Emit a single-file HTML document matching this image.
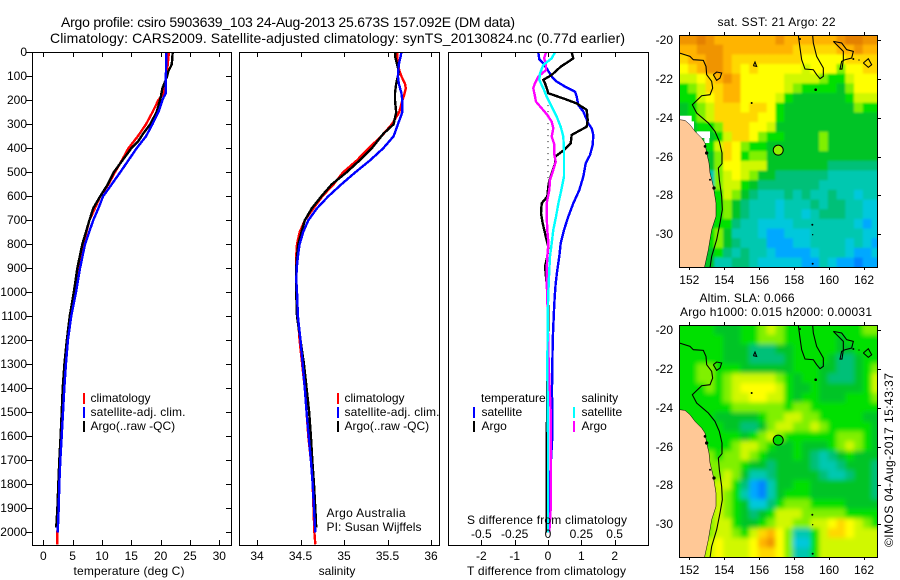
<!DOCTYPE html>
<html><head><meta charset="utf-8"><title>Argo profile</title>
<style>
html,body{margin:0;padding:0;background:#fff;width:900px;height:580px;overflow:hidden}
svg{display:block}
text{font-family:"Liberation Sans",sans-serif;font-size:12px;fill:#000}
.t14{font-size:14px}
.fr{fill:none;stroke:#000;stroke-width:1;shape-rendering:crispEdges}
.sw{shape-rendering:crispEdges}
</style></head><body>
<svg id="chart" xmlns="http://www.w3.org/2000/svg" width="900" height="580" viewBox="0 0 900 580">
<defs>
<clipPath id="clipA"><rect x="679" y="35" width="198" height="232"/></clipPath>
<clipPath id="clipB"><rect x="679" y="325" width="198" height="232"/></clipPath>
<filter id="blurA" x="-5%" y="-5%" width="110%" height="110%"><feGaussianBlur stdDeviation="1.1"/></filter>
<filter id="blurB" x="-5%" y="-5%" width="110%" height="110%"><feGaussianBlur stdDeviation="2.4"/></filter>
</defs>
<text class="t14" x="61" y="27" textLength="454">Argo profile: csiro 5903639_103 24-Aug-2013 25.673S 157.092E (DM data)</text>
<text class="t14" x="50" y="43" textLength="575">Climatology: CARS2009. Satellite-adjusted climatology: synTS_20130824.nc (0.77d earlier)</text>

<g id="tempPanel"></g>
<g id="salPanel"></g>
<g id="diffPanel"></g>
<g id="mapA"></g>
<g id="mapB"></g>

<rect class="fr" x="32.5" y="52.5" width="199" height="493"/>
<rect class="fr" x="239.5" y="52.5" width="200" height="493"/>
<rect class="fr" x="448.5" y="52.5" width="200" height="493"/>

<g>
<rect class="sw" x="83" y="393" width="2" height="11" fill="#f00"/>
<rect class="sw" x="83" y="407" width="2" height="11" fill="#00f"/>
<rect class="sw" x="83" y="421" width="2" height="11" fill="#000"/>
<text x="90.5" y="402">climatology</text>
<text x="90.5" y="416" textLength="95">satellite-adj. clim.</text>
<text x="90.5" y="430">Argo(..raw -QC)</text>
</g>
<g>
<rect class="sw" x="337" y="393" width="2" height="11" fill="#f00"/>
<rect class="sw" x="337" y="407" width="2" height="11" fill="#00f"/>
<rect class="sw" x="337" y="421" width="2" height="11" fill="#000"/>
<text x="344.5" y="402">climatology</text>
<text x="344.5" y="416" textLength="95">satellite-adj. clim.</text>
<text x="344.5" y="430">Argo(..raw -QC)</text>
</g>
<text x="326.5" y="517" textLength="79">Argo Australia</text>
<text x="326.5" y="531" textLength="95">PI: Susan Wijffels</text>
<g>
<text x="481" y="402">temperature</text>
<text x="581.5" y="402">salinity</text>
<rect class="sw" x="473" y="407" width="2" height="11" fill="#00f"/>
<rect class="sw" x="473" y="421" width="2" height="11" fill="#000"/>
<rect class="sw" x="573" y="407" width="2" height="11" fill="#0ff"/>
<rect class="sw" x="573" y="421" width="2" height="11" fill="#f0f"/>
<text x="481.5" y="416">satellite</text>
<text x="481.5" y="430">Argo</text>
<text x="581.5" y="416">satellite</text>
<text x="581.5" y="430">Argo</text>
</g>
<text x="129" y="575" text-anchor="middle" textLength="111">temperature (deg C)</text>
<text x="337" y="575" text-anchor="middle">salinity</text>
<text x="467" y="524" textLength="160">S difference from climatology</text>
<text x="467" y="575" textLength="159">T difference from climatology</text>
<text x="717.5" y="26" textLength="118">sat. SST: 21 Argo: 22</text>
<text x="699.5" y="302" textLength="95">Altim. SLA: 0.066</text>
<text x="680" y="316" textLength="192">Argo h1000: 0.015 h2000: 0.00031</text>
<text transform="translate(893,547) rotate(-90)" x="0" y="0" textLength="174">©IMOS 04-Aug-2017 15:43:37</text>
</svg>
<script>
// ---- profile data (depth in m, value in deg C / PSU) ----
const depthTicks = [0,100,200,300,400,500,600,700,800,900,1000,1100,1200,1300,1400,1500,1600,1700,1800,1900,2000];
const tempTicks = [0,5,10,15,20,25,30];
const salTicks = [34,34.5,35,35.5,36];
const salTickLabels = ['34','34.5','35','35.5','36'];
const diffTTicks = [-2,-1,0,1,2];
const diffSTicks = [-0.5,-0.25,0,0.25,0.5];
const diffSTickLabels = ['-0.5','-0.25','0','0.25','0.5'];

const climTempDepth = [0,100,170,200,250,300,350,400,450,500,550,600,650,700,800,900,1000,1100,1200,1300,1400,1500,1600,1700,1800,1900,2000,2050];
const climTemp = [21.4,21.0,20.5,19.6,18.6,17.5,16.1,14.5,13.4,12.2,11.1,9.7,8.8,7.85,6.8,6.0,5.35,4.6,4.1,3.75,3.5,3.3,3.05,2.85,2.7,2.55,2.4,2.4];
const argoTempDepth = [0,50,80,100,150,190,250,300,340,370,400,450,500,550,600,650,700,800,900,1000,1100,1200,1300,1400,1500,1600,1700,1800,1900,1980];
const argoTemp = [22.05,21.9,21.3,21.1,20.3,20.0,19.3,18.2,17.0,16.2,15.0,13.5,12.0,11.0,9.7,8.5,7.85,6.65,5.8,5.2,4.5,4.0,3.6,3.3,3.14,2.95,2.73,2.55,2.4,2.2];
const satTempDepth = [0,100,170,190,250,300,350,400,450,500,550,600,650,700,800,900,1000,1100,1200,1300,1400,1500,1600,1700,1800,1900,2000];
const satTemp = [20.97,20.9,20.9,20.46,19.6,18.6,17.5,15.9,14.5,13.1,11.66,10.2,9.4,8.5,7.1,6.25,5.57,4.75,4.2,3.85,3.58,3.36,3.13,2.9,2.73,2.62,2.45];

const climSalDepth = [0,50,80,100,130,150,180,200,250,300,350,400,450,500,550,600,650,700,750,800,850,900,1000,1100,1200,1300,1400,1500,1600,1700,1800,1900,2000,2050];
const climSal = [35.61,35.62,35.64,35.66,35.7,35.71,35.69,35.67,35.635,35.55,35.43,35.28,35.15,34.99,34.88,34.75,34.65,34.55,34.49,34.46,34.45,34.45,34.45,34.47,34.49,34.52,34.55,34.57,34.59,34.62,34.64,34.65,34.66,34.67];
const argoSalDepth = [0,20,50,80,100,130,170,200,250,300,340,400,450,500,550,600,650,700,750,800,850,900,1000,1100,1200,1300,1400,1500,1600,1700,1800,1900,1980];
const argoSal = [35.586,35.59,35.61,35.63,35.62,35.6,35.586,35.586,35.6,35.57,35.45,35.32,35.18,35.03,34.86,34.74,34.63,34.55,34.51,34.475,34.46,34.45,34.45,34.46,34.5,34.54,34.57,34.6,34.62,34.636,34.655,34.67,34.68];
const satSalDepth = [0,20,50,100,130,170,200,250,300,350,400,450,500,550,600,650,700,750,800,850,900,950,1000,1100,1200,1300,1400,1500,1600,1700,1800,1900,2000];
const satSal = [35.66,35.65,35.63,35.62,35.63,35.66,35.67,35.67,35.62,35.57,35.45,35.3,35.13,34.97,34.82,34.69,34.59,34.53,34.49,34.47,34.456,34.452,34.46,34.47,34.5,34.525,34.55,34.57,34.594,34.62,34.64,34.655,34.67];

const diffTSatDepth = [0,30,46,74,101,122,143,164,185,220,247,296,317,344,386,428,463,518,574,629,685,740,796,851,907,962,1018,1074,1200,1400,1600,1800,2000];
const diffTSat = [-0.29,-0.26,-0.14,-0.01,0.11,0.26,0.51,0.81,0.86,0.91,1.06,1.21,1.31,1.36,1.34,1.26,1.13,1.06,0.94,0.76,0.61,0.48,0.38,0.34,0.28,0.23,0.2,0.18,0.14,0.12,0.13,0.05,0.03];
const diffTArgoDepth = [1,25,39,60,94,115,129,157,171,192,213,240,282,310,344,379,407,435,463,504,546,601,629,671,712,754,810,851,893,935,990,1074,1300,1500,1800,2000];
const diffTArgo = [0.71,0.76,0.61,0.38,0.11,-0.14,-0.09,-0.02,0.01,0.46,0.86,1.16,1.19,1.16,0.71,0.68,0.48,0.21,0.21,0.11,0.02,-0.02,-0.19,-0.21,-0.16,-0.09,0.01,-0.02,-0.09,-0.06,-0.02,0.01,-0.01,-0.03,-0.04,-0.04];
const diffSSatDepth = [1,25,53,87,115,150,185,226,268,310,351,407,463,518,574,629,685,740,796,851,907,962,1046,1300,1600,2000];
const diffSSat = [0.052,0.028,-0.035,-0.06,-0.065,-0.035,-0.01,0.028,0.065,0.095,0.115,0.12,0.12,0.12,0.1,0.078,0.06,0.04,0.028,0.015,0.01,0.005,0,-0.005,0,0];
const diffSArgoDepth = [1,25,46,74,101,129,150,178,206,233,261,289,317,351,386,428,456,490,532,574,629,685,740,796,851,907,962,1018,1300,1500,1900,2000];
const diffSArgo = [-0.015,-0.03,-0.015,-0.015,-0.073,-0.098,-0.11,-0.1,-0.09,-0.048,-0.005,0.028,0.04,0.028,0.048,0.048,0.058,0.04,0.015,0.01,-0.01,-0.01,-0.005,0.003,-0.005,-0.01,-0.01,-0.005,0.005,0.02,0.02,0.01];
const zeroDotDepth = [170,620];
const zeroDotValue = [0,0];

// ---- map data: colour-level per 0.5 degree cell ----
const mapLonTicks = [152,154,156,158,160,162];
const mapLatTicks = [-20,-22,-24,-26,-28,-30];
const mapLevelColors = ['#0084ff','#00a8ff','#00c8dc','#00c8b0','#00c078','#00c428','#00e000','#80f000','#d0f800','#ffff00','#ffd800','#ffb400','#f09400','#e48000'];
const sstLevels = [
[12,12,13,12,11,11,11,11,11,11,11,12,11,11,11,11,11,11,12,13,13,12,12],
[11,11,12,12,12,11,11,11,11,11,11,11,11,10,10,10,10,10,11,11,12,11,11],
[10,11,11,12,12,11,10,10,10,10,10,10,10,10,9,9,9,9,9,10,10,10,10],
[9,10,11,12,12,11,10,9,10,9,9,9,9,9,8,9,9,9,7,9,9,10,10],
[8,8,9,10,11,12,11,9,9,9,9,9,8,8,8,8,7,6,6,8,9,9,9],
[6,7,8,10,10,11,11,9,9,9,9,9,8,7,6,6,6,6,5,7,9,9,9],
[6,6,8,9,10,11,11,9,9,9,9,8,6,5,5,5,5,5,5,6,8,8,8],
[5,6,7,8,10,10,10,9,10,10,9,6,5,5,5,5,5,5,5,5,7,6,6],
[5,6,7,8,10,10,10,10,10,9,9,6,5,5,5,5,5,5,5,5,5,5,5],
[5,5,6,6,7,10,10,10,9,9,8,5,5,5,5,5,5,5,5,5,5,5,5],
[5,5,5,5,6,8,10,10,9,7,6,6,5,5,5,5,7,5,5,5,5,5,5],
[5,5,5,6,8,10,9,7,6,6,5,5,5,5,5,5,7,5,5,5,5,5,5],
[5,5,5,5,7,10,9,6,7,7,5,5,5,5,5,5,5,5,5,5,5,5,5],
[5,5,5,5,7,9,9,8,8,8,5,5,5,5,5,5,5,4,4,4,4,4,4],
[5,5,5,3,7,8,9,8,7,5,5,4,4,4,4,4,4,3,3,3,3,3,3],
[5,5,5,3,7,8,8,6,5,4,4,4,4,4,4,4,3,3,3,3,3,3,3],
[5,5,5,5,6,8,7,5,4,3,3,3,4,3,4,3,3,4,3,3,2,3,3],
[5,5,5,5,6,7,5,4,3,3,3,2,3,3,3,4,3,4,4,3,3,2,2],
[5,5,5,5,6,7,5,4,3,3,3,2,3,3,2,3,4,4,4,3,3,2,2],
[5,5,5,5,6,6,4,3,3,2,2,2,2,3,3,3,3,3,3,3,2,1,2],
[5,5,5,6,7,5,3,3,3,2,1,1,2,2,2,3,3,3,3,3,3,2,2],
[5,5,5,6,7,5,4,3,3,3,1,1,1,2,2,3,3,3,3,2,3,2,1],
[5,5,5,5,6,4,3,4,3,3,2,1,1,1,1,2,3,3,3,2,1,1,2],
[5,5,5,5,3,3,4,4,3,2,2,2,2,2,1,1,3,2,1,1,0,1,1]
];
const slaLevels = [
[6,6,6,6,5,5,5,6,6,7,8,7,6,6,6,6,6,6,6,6,6,7,7],
[6,6,6,6,6,5,5,6,6,7,7,7,6,6,6,6,6,6,5,6,6,6,6],
[6,6,6,6,6,5,5,5,4,4,4,5,5,6,6,6,6,6,5,5,6,6,6],
[6,6,6,6,6,5,5,5,4,4,4,4,5,6,6,6,6,5,4,4,5,6,6],
[6,6,7,7,6,6,6,5,5,5,5,5,5,6,6,6,5,5,4,4,5,6,7],
[6,6,7,7,6,7,8,8,8,8,8,7,6,5,6,6,5,4,4,4,5,6,8],
[6,6,6,7,6,7,8,9,9,9,9,8,6,5,5,6,5,5,5,5,5,6,8],
[6,6,6,6,6,7,8,8,9,9,8,8,6,5,6,6,5,5,5,6,6,6,7],
[6,6,6,6,6,6,7,7,7,7,7,7,6,7,7,6,6,6,6,6,6,6,6],
[6,6,6,6,5,5,5,5,5,6,7,7,8,8,7,7,6,6,6,6,6,5,5],
[6,6,6,6,6,5,5,4,4,5,7,8,8,7,7,8,7,6,6,6,6,6,5],
[6,6,6,6,6,6,6,5,6,7,8,7,6,6,6,6,6,6,7,7,7,6,5],
[6,6,6,6,6,6,7,8,8,7,6,5,5,6,5,5,5,6,7,8,7,6,5],
[7,7,7,7,6,7,7,8,7,6,5,5,5,6,5,4,3,4,5,6,5,5,5],
[7,7,7,7,7,7,7,6,5,5,4,5,5,5,5,4,3,3,4,5,5,5,4],
[7,7,7,7,7,8,7,5,3,3,4,5,5,5,5,5,4,3,3,4,5,5,4],
[7,7,7,7,8,8,6,4,1,0,3,5,5,6,6,5,5,5,5,5,5,5,4],
[7,7,7,7,8,7,6,3,1,0,3,5,6,6,6,5,5,5,5,5,5,5,4],
[7,7,7,7,8,7,6,5,2,2,4,6,7,7,7,6,6,6,6,5,5,5,5],
[7,7,7,7,8,7,6,5,4,5,6,8,8,8,7,7,7,7,7,6,6,6,6],
[7,7,7,7,8,8,6,5,5,6,7,8,8,7,7,8,8,9,10,9,8,7,6],
[7,7,7,7,8,8,7,6,8,10,11,9,7,3,3,6,8,10,10,9,8,8,8],
[7,7,7,8,9,8,8,8,9,11,12,9,7,2,2,6,8,8,8,8,8,8,8],
[7,7,7,8,9,8,8,8,9,10,10,9,7,3,3,6,8,8,8,8,8,8,8]
];
const argoFloatLon = [157.09];
const argoFloatLat = [-25.67];

// ---- helpers ----
const NS = 'http://www.w3.org/2000/svg';
function mk(tag, parent, attrs) {
  const el = document.createElementNS(NS, tag);
  for (const k in attrs) el.setAttribute(k, attrs[k]);
  parent.appendChild(el);
  return el;
}
const depthY = d => 52.3 + d * 0.24;
const tempX = t => 43.3 + t * 5.867;
const salX = s => 257 + (s - 34) * 87;
const diffTX = t => 548 + t * 33.33;
const diffSX = s => 548 + s * 133.3;

function tick(parent, x1, y1, x2, y2) {
  const el = mk('line', parent, {x1, y1, x2, y2, stroke:'#000', 'stroke-width':1, 'shape-rendering':'crispEdges'});
  
  
}
function label(parent, x, y, str, anchor) {
  const el = mk('text', parent, {x, y, 'text-anchor':anchor});
  el.textContent = str;
  
  
}
function series(parent, name, depths, values, xf, color) {
  const pts = depths.map((d, i) => xf(values[i]).toFixed(1) + ',' + depthY(d).toFixed(1)).join(' ');
  const el = mk('polyline', parent, {points:pts, fill:'none', stroke:color, 'stroke-width':2.4, 'stroke-linejoin':'round', 'shape-rendering':'crispEdges'});
  
  
}

// ---- temperature panel ----
const tp = document.getElementById('tempPanel');
series(tp, 'temperature-climatology-line', climTempDepth, climTemp, tempX, '#f00');
series(tp, 'temperature-argo-line', argoTempDepth, argoTemp, tempX, '#000');
series(tp, 'temperature-satellite-line', satTempDepth, satTemp, tempX, '#00f');
depthTicks.forEach(d => {
  const y = Math.round(depthY(d)) + 0.5;
  tick(tp, 26, y, 32, y);
  tick(tp, 226, y, 231, y);
  label(tp, 27, Math.round(depthY(d)) + 4, String(d), 'end');
});
tempTicks.forEach(t => {
  const x = Math.round(tempX(t)) + 0.5;
  tick(tp, x, 52, x, 57);
  tick(tp, x, 540, x, 545);
  label(tp, tempX(t), 560, String(t), 'middle');
});

// ---- salinity panel ----
const sp = document.getElementById('salPanel');
series(sp, 'salinity-climatology-line', climSalDepth, climSal, salX, '#f00');
series(sp, 'salinity-argo-line', argoSalDepth, argoSal, salX, '#000');
series(sp, 'salinity-satellite-line', satSalDepth, satSal, salX, '#00f');
salTicks.forEach((s, i) => {
  const x = Math.round(salX(s)) + 0.5;
  tick(sp, x, 52, x, 57);
  tick(sp, x, 540, x, 545);
  label(sp, salX(s), 560, salTickLabels[i], 'middle');
});

// ---- difference panel ----
const dp = document.getElementById('diffPanel');
const dots = mk('polyline', dp, {points: zeroDotDepth.map((d, i) => diffTX(zeroDotValue[i]) + ',' + depthY(d)).join(' '), fill:'none', stroke:'#000', 'stroke-width':1, 'stroke-dasharray':'1 5'});


series(dp, 'difference-t-satellite-line', diffTSatDepth, diffTSat, diffTX, '#00f');
series(dp, 'difference-t-argo-line', diffTArgoDepth, diffTArgo, diffTX, '#000');
series(dp, 'difference-s-argo-line', diffSArgoDepth, diffSArgo, diffSX, '#f0f');
series(dp, 'difference-s-satellite-line', diffSSatDepth, diffSSat, diffSX, '#0ff');
diffTTicks.forEach(t => {
  const x = Math.round(diffTX(t)) + 0.5;
  tick(dp, x, 52, x, 57);
  tick(dp, x, 540, x, 545);
  label(dp, diffTX(t), 560, String(t), 'middle');
});
diffSTicks.forEach((s, i) => {
  label(dp, diffSX(s), 538, diffSTickLabels[i], 'middle');
});

// ---- maps ----
const lonX = lon => 689.3 + (lon - 152) * 17.47;
function latY(lat, top) { return top + 5.4 + (-20 - lat) * 19.36; }
const landPts = [[58,330],[75,332],[90,345],[105,365],[125,385],[135,400],[140,430],[147,460],[150,490],[160,530],[168,580],[168,620],[155,660],[145,720],[133,775],[55,775]];
const isobathPts = [[[58,130],[90,140],[100,150],[130,152],[138,170],[140,195],[155,215],[158,235],[150,255],[125,258],[97,285],[110,310],[145,340],[165,365],[178,395],[186,430],[186,462],[175,475],[178,510],[185,560],[187,600],[180,640],[170,690],[155,740],[150,775]],
[[415,77],[420,115],[425,150],[435,178],[460,180],[470,195],[480,207],[490,200],[490,175],[470,140],[460,100],[458,77]],
[[520,95],[545,100],[560,120],[580,125],[575,145],[555,150],[545,155],[540,178],[546,178],[550,150],[550,125],[520,95]],
[[610,160],[625,147],[635,165],[625,173],[610,160]],
[[160,195],[170,187],[185,190],[180,205],[170,212],[160,195]],
[[280,168],[285,157],[290,170],[280,168]]];
const specks = [[275,280,3],[467,240,4],[457,645,3],[458,675,2],[458,762,3],[420,88,3],[580,148,3],[597,151,2],[140,430,5],[162,535,5],[135,410,4],[150,510,3]];

function drawMap(id, top, levels, blurId, clipId, whites, circleFill) {
  const g = document.getElementById(id);
  const bg = mk('rect', g, {x:679, y:top, width:198, height:232, fill:'#00c428'});
  
  
  const clip = mk('g', g, {'clip-path':'url(#' + clipId + ')'});
  
  
  const cells = mk('g', clip, {filter:'url(#' + blurId + ')'});
  
  
  levels.forEach((row, j) => row.forEach((v, i) => {
    const lon = 151.43 + 0.5 * i, lat = -19.72 - 0.5 * j;
    const extraL = i === 0 ? 8 : 0, extraT = j === 0 ? 8 : 0;
    const r = mk('rect', cells, {x:lonX(lon) - extraL, y:latY(lat, top) - extraT, width:lonX(lon + 0.5) - lonX(lon) + extraL + 0.5, height:latY(lat - 0.5, top) - latY(lat, top) + extraT + (j === levels.length - 1 ? 8 : 0.5), fill:mapLevelColors[v]});
    
    
  }));
  const ov = mk('g', clip, {transform:'translate(660,' + (top - 25.3 + 0) + ') scale(0.33333)'});
  
  
  whites.forEach(w => {
    const r = mk('rect', ov, {x:w[0], y:w[1], width:w[2], height:w[3], fill:'#fff'});
    
    
  });
  const land = mk('polygon', ov, {points:landPts.map(p => p.join(',')).join(' '), fill:'#ffc896', stroke:'#000', 'stroke-width':1.5});
  
  
  isobathPts.forEach(line => {
    const l = mk('polyline', ov, {points:line.map(p => p.join(',')).join(' '), fill:'none', stroke:'#000', 'stroke-width':3.2});
    
    
  });
  specks.forEach(s => {
    const c = mk('circle', ov, {cx:s[0], cy:s[1], r:s[2], fill:'#000'});
    
    
  });
  argoFloatLon.forEach((lon, i) => {
    const c = mk('circle', clip, {cx:lonX(lon), cy:latY(argoFloatLat[i], top), r:5, fill:circleFill, stroke:'#000', 'stroke-width':1});
    
    
  });
  const fr = mk('rect', g, {x:679.5, y:top + 0.5, width:198, height:232, fill:'none', stroke:'#000', 'stroke-width':1, 'shape-rendering':'crispEdges'});
  
  
  mapLonTicks.forEach(lon => {
    const x = Math.round(lonX(lon)) + 0.5;
    tick(g, x, top - 3, x, top);
    tick(g, x, top + 232, x, top + 235);
    label(g, lonX(lon), top + 249, String(lon), 'middle');
  });
  mapLatTicks.forEach(lat => {
    const y = Math.round(latY(lat, top)) + 0.5;
    tick(g, 877, y, 881, y);
    label(g, 673, Math.round(latY(lat, top)) + 4, String(lat), 'end');
  });
}
drawMap('mapA', 35, sstLevels, 'blurA', 'clipA', [[58,318,37,20],[80,335,22,30],[110,365,40,20],[133,385,15,15]], '#90f000');
drawMap('mapB', 325, slaLevels, 'blurB', 'clipB', [], '#00dc00');
</script>
</body></html>
